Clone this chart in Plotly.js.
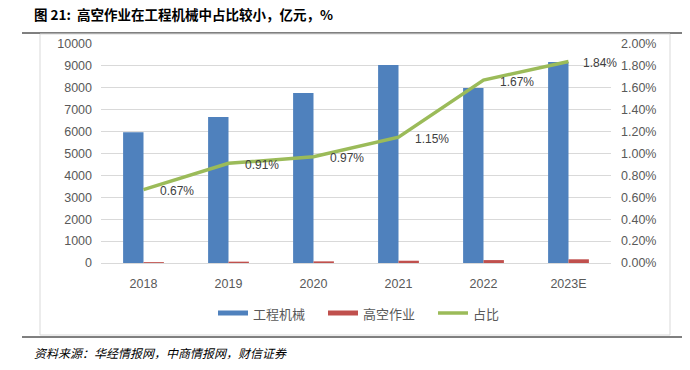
<!DOCTYPE html>
<html><head><meta charset="utf-8">
<script src="https://cdn.plot.ly/plotly-3.0.1.min.js"></script>
<style>body{margin:0;background:#fff}#c{width:690px;height:370px}</style>
</head><body><div id="c"></div>
<script>
const categories = ["2018","2019","2020","2021","2022","2023E"];
const machinery = [5970, 6670, 7760, 9040, 7990, 9180];
const aerial = [40, 61, 75, 104, 133, 169];
const share = [0.0067, 0.0091, 0.0097, 0.0115, 0.0167, 0.0184];
const shareLabels = ["0.67%","0.91%","0.97%","1.15%","1.67%","1.84%"];
const leftTicks = [0,1000,2000,3000,4000,5000,6000,7000,8000,9000,10000];
const rightTicks = [0,0.002,0.004,0.006,0.008,0.010,0.012,0.014,0.016,0.018,0.020];

const idx = categories.map((c,i)=>i);

const traces = [
  {type:"bar", name:"工程机械", x:idx, y:machinery, marker:{color:"#4F81BD"}},
  {type:"bar", name:"高空作业", x:idx, y:aerial, marker:{color:"#C0504D"}},
  {type:"scatter", mode:"lines", name:"占比", x:idx, y:share, yaxis:"y2",
   line:{color:"#9BBB59", width:3.5}}
];
const annotations = idx.map(i=>({
  x:i, y:share[i], xref:"x", yref:"y2", text:shareLabels[i], showarrow:false,
  xshift:(i===5?31:33), yshift:-1.5,
  font:{size:12, color:"#404040", family:"Liberation Sans, Arial"}
}));
const lf = {size:13, color:"#595959", family:"Noto Sans CJK SC"};
annotations.push(
  {xref:"paper", yref:"paper", x:-0.136, y:1.138, xanchor:"left", yanchor:"middle", showarrow:false,
   text:"<b>图 21:  高空作业在工程机械中占比较小，亿元，%</b>",
   font:{size:13.5, color:"#000", family:"Noto Sans CJK SC"}},
  {xref:"paper", yref:"paper", x:-0.136, y:-0.41, xanchor:"left", yanchor:"middle", showarrow:false,
   text:"<i>资料来源：华经情报网，中商情报网，财信证券</i>",
   font:{size:12, color:"#000", family:"Noto Sans CJK SC"}},
  {xref:"paper", yref:"paper", x:(251-101)/510, y:-(313-263)/219, xanchor:"left", yanchor:"middle", showarrow:false, text:"工程机械", font:lf},
  {xref:"paper", yref:"paper", x:(361-101)/510, y:-(313-263)/219, xanchor:"left", yanchor:"middle", showarrow:false, text:"高空作业", font:lf},
  {xref:"paper", yref:"paper", x:(471-101)/510, y:-(313-263)/219, xanchor:"left", yanchor:"middle", showarrow:false, text:"占比", font:lf}
);
function px(x){return (x-101)/510;}
function py(y){return (263-y)/219;}
const layout = {
  width:690, height:370,
  margin:{l:101, r:79, t:44, b:107},
  paper_bgcolor:"#fff", plot_bgcolor:"#fff",
  barmode:"group", bargap:0.52, bargroupgap:0,
  showlegend:false,
  xaxis:{range:[-0.5,5.5], tickvals:idx, ticktext:categories, ticklabelstandoff:11,
    tickfont:{size:12.5, color:"#595959", family:"Liberation Sans, Arial"},
    showline:false, ticks:"", showgrid:false, zeroline:false},
  yaxis:{range:[0,10000], tickvals:leftTicks, ticktext:leftTicks.map(String), ticklabelstandoff:8,
    showgrid:true, gridcolor:"#D9D9D9", gridwidth:1, zeroline:true, zerolinecolor:"#D9D9D9",
    tickfont:{size:12.5, color:"#595959", family:"Liberation Sans, Arial"}, ticks:"", showline:false},
  yaxis2:{overlaying:"y", side:"right", range:[0,0.02], tickvals:rightTicks, ticklabelstandoff:9,
    ticktext:rightTicks.map(v=>(v*100).toFixed(2)+"%"), showgrid:false, zeroline:false,
    tickfont:{size:12.5, color:"#595959", family:"Liberation Sans, Arial"}, ticks:"", showline:false},
  annotations:annotations,
  shapes:[
    {type:"line", xref:"paper", yref:"paper", x0:px(22), x1:px(682), y0:py(33), y1:py(33), line:{color:"#000", width:1}},
    {type:"line", xref:"paper", yref:"paper", x0:px(22), x1:px(682), y0:py(337), y1:py(337), line:{color:"#000", width:1}},
    {type:"rect", xref:"paper", yref:"paper", x0:px(40), x1:px(670), y0:py(335), y1:py(34), line:{color:"#D9D9D9", width:1}},
    {type:"rect", xref:"paper", yref:"paper", x0:px(218), x1:px(248), y0:py(315.5), y1:py(310.5), fillcolor:"#4F81BD", line:{width:0}},
    {type:"rect", xref:"paper", yref:"paper", x0:px(328), x1:px(358), y0:py(315.5), y1:py(310.5), fillcolor:"#C0504D", line:{width:0}},
    {type:"line", xref:"paper", yref:"paper", x0:px(438), x1:px(468), y0:py(313), y1:py(313), line:{color:"#9BBB59", width:3.5}}
  ]
};
Plotly.newPlot("c", traces, layout, {displayModeBar:false, staticPlot:true});
</script></body></html>
